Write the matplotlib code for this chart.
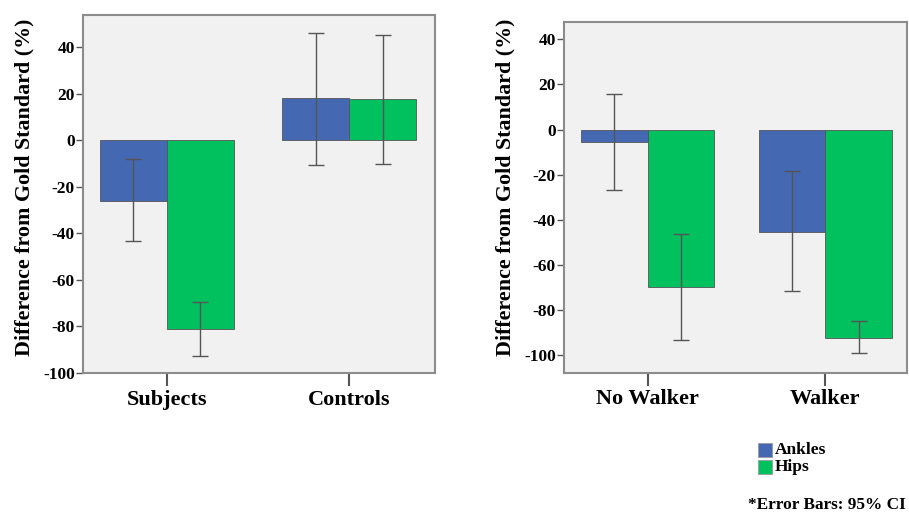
import matplotlib
matplotlib.use("Agg")
import matplotlib.pyplot as plt
import numpy as np
from matplotlib.patches import Rectangle

plt.rcParams['font.family'] = ['Liberation Serif', 'DejaVu Serif']
plt.rcParams['font.weight'] = 'bold'

series = ["Ankles", "Hips"]
colors = ["#4568B3", "#00C15E"]

left_cats = ["Subjects", "Controls"]
left_means = {"Ankles": [-26, 17.9], "Hips": [-81, 17.6]}
left_low = {"Ankles": [-43.5, -10.6], "Hips": [-92.7, -10.3]}
left_high = {"Ankles": [-8.0, 46.1], "Hips": [-69.3, 45.3]}

right_cats = ["No Walker", "Walker"]
right_means = {"Ankles": [-5.6, -45.5], "Hips": [-69.9, -92.3]}
right_low = {"Ankles": [-27, -71.6], "Hips": [-93.3, -99.3]}
right_high = {"Ankles": [15.9, -18.5], "Hips": [-46.4, -84.9]}

yticks = [40, 20, 0, -20, -40, -60, -80, -100]

fig = plt.figure(figsize=(9.09, 5.15), dpi=100)
fig.patch.set_facecolor("white")

def panel(rect, cats, means, low, high, ylim, xlim, width, label_y):
    ax = fig.add_axes(rect)
    ax.set_facecolor("#F1F1F1")
    x = np.arange(len(cats))
    for i, s in enumerate(series):
        pos = x + (i - 0.5) * width
        m = np.array(means[s])
        ax.bar(pos, m, width=width, color=colors[i], edgecolor="#555555",
               linewidth=0.6, zorder=2)
        lo = m - np.array(low[s])
        hi = np.array(high[s]) - m
        ax.errorbar(pos, m, yerr=[lo, hi], fmt="none", ecolor="#555555",
                    elinewidth=1.0, capsize=6, capthick=1.0, zorder=3)
    ax.set_xlim(*xlim)
    ax.set_ylim(*ylim)
    ax.set_yticks(yticks)
    ax.set_yticklabels([str(t) for t in yticks], fontsize=12.5, fontweight='bold')
    ax.set_xticks(x)
    ax.set_xticklabels(cats, fontsize=16, fontweight='bold')
    ax.tick_params(axis='y', length=5, width=1.0, color="#555555", pad=1)
    ax.tick_params(axis='x', length=9, width=1.5, color="#555555", pad=3)
    for sp in ax.spines.values():
        sp.set_color("#8C8C8C")
        sp.set_linewidth(1.5)
    ax.set_ylabel("Difference from Gold Standard (%)", fontsize=15.8,
                  fontweight='bold', labelpad=6)
    ax.yaxis.label.set_y(label_y)
    return ax

ax1 = panel([0.0913, 0.2757, 0.3872, 0.6951], left_cats, left_means,
            left_low, left_high, (-100, 53.7), (-0.46, 1.47), 0.368, 0.52)
ax2 = panel([0.6208, 0.2763, 0.377, 0.6804], right_cats, right_means,
            right_low, right_high, (-107.9, 47.6), (-0.47, 1.46), 0.375, 0.53)

# legend
for i, s in enumerate(series):
    y = 1 - (443 + i * 17) / 515
    fig.patches.append(Rectangle((758 / 909, y - 14 / 515), 14 / 909, 14 / 515,
                                 transform=fig.transFigure, facecolor=colors[i],
                                 edgecolor="#9A9A9A", linewidth=0.6))
    fig.text(775 / 909, y - 7 / 515, s, fontsize=12.5, fontweight='bold',
             va='center', ha='left')

fig.text(906 / 909, 1 - 505 / 515, "*Error Bars: 95% CI", fontsize=12.4,
         fontweight='bold', ha='right', va='center')

fig.savefig("out.png", dpi=100)
